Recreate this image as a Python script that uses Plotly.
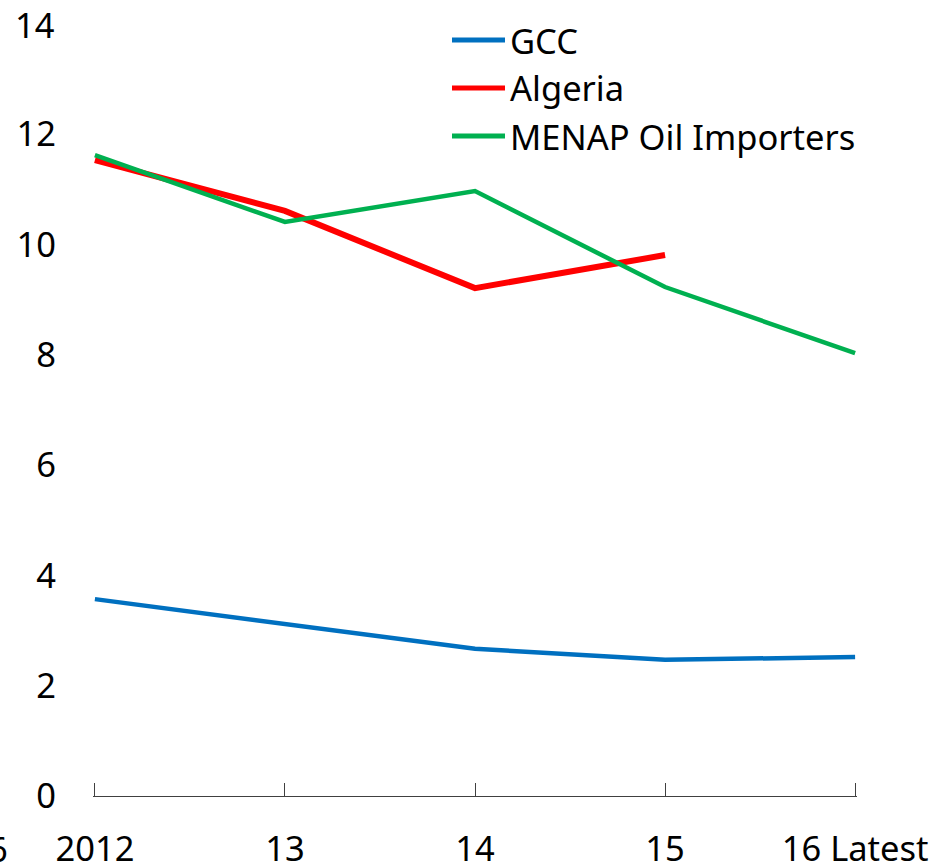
import plotly.graph_objects as go

categories = ["2012", "13", "14", "15", "16 Latest"]
gcc = [3.57, 3.12, 2.67, 2.47, 2.52]
algeria = [11.53, 10.61, 9.21, 9.81, None]
menap = [11.62, 10.41, 10.97, 9.23, 8.03]

series_names = ["GCC", "Algeria", "MENAP Oil Importers"]
colors = ["#0070C0", "#FF0000", "#00B050"]
widths = [4.5, 6, 4.5]
y_ticks = [0, 2, 4, 6, 8, 10, 12, 14]

FONT = "Noto Sans"
FS = 34.5

# pixel geometry of plot area
T, B, L, R = 8, 70, 93, 88
plot_h = 866 - T - B
plot_w = 945 - L - R
unit = 772 / 14.0
y_top = plot_h / unit

def py(pix):
    return (866 - B - pix) / plot_h

def px(pix):
    return (pix - L) / plot_w

fig = go.Figure()
for name, vals, c, w in zip(series_names, [gcc, algeria, menap], colors, widths):
    fig.add_trace(go.Scatter(x=list(range(len(categories))), y=vals, mode="lines",
                             name=name, line=dict(color=c, width=w),
                             connectgaps=False, showlegend=False, cliponaxis=False))

# manual legend
for name, c, pix in zip(series_names, colors, [40, 88, 136]):
    yy = py(pix)
    fig.add_shape(type="line", xref="paper", yref="paper", x0=px(452), x1=px(505),
                  y0=yy, y1=yy, line=dict(color=c, width=5))
    fig.add_annotation(xref="paper", yref="paper", x=px(508), y=yy, text=name,
                       showarrow=False, xanchor="left", yanchor="middle",
                       font=dict(family=FONT, size=FS, color="black"))

# top y tick label (drawn as text at the axis value so it is not hidden at the page edge)
top_tick = y_ticks[-1]
fig.add_annotation(xref="paper", yref="y", x=px(57), y=top_tick, text=str(top_tick),
                   showarrow=False, xanchor="right", yanchor="middle",
                   font=dict(family=FONT, size=FS, color="black"))

# clipped stray label at left edge
fig.add_annotation(xref="paper", yref="paper", x=px(10), y=py(848),
                   text="6", showarrow=False, xanchor="right", yanchor="middle",
                   font=dict(family=FONT, size=FS, color="black"))

fig.update_layout(
    width=945, height=866,
    margin=dict(l=L, r=R, t=T, b=B, autoexpand=False),
    paper_bgcolor="white", plot_bgcolor="white",
    font=dict(family=FONT, size=FS, color="black"),
    xaxis=dict(range=[-0.01, 4.01], tickmode="array", tickvals=list(range(len(categories))),
               ticktext=categories, showgrid=False, zeroline=False, automargin=False,
               showline=True, linecolor="#404040", linewidth=1.2,
               ticks="inside", ticklen=13, tickcolor="#404040", tickwidth=1.2,
               ticklabelstandoff=22),
    yaxis=dict(range=[0, y_top], tickmode="array", tickvals=y_ticks[:-1], automargin=False,
               showgrid=False, zeroline=False, showline=False, ticks="",
               ticklabelstandoff=36),
)
fig.write_html("out.html", config={"displayModeBar": False},
               post_script="document.body.style.margin='0';")
